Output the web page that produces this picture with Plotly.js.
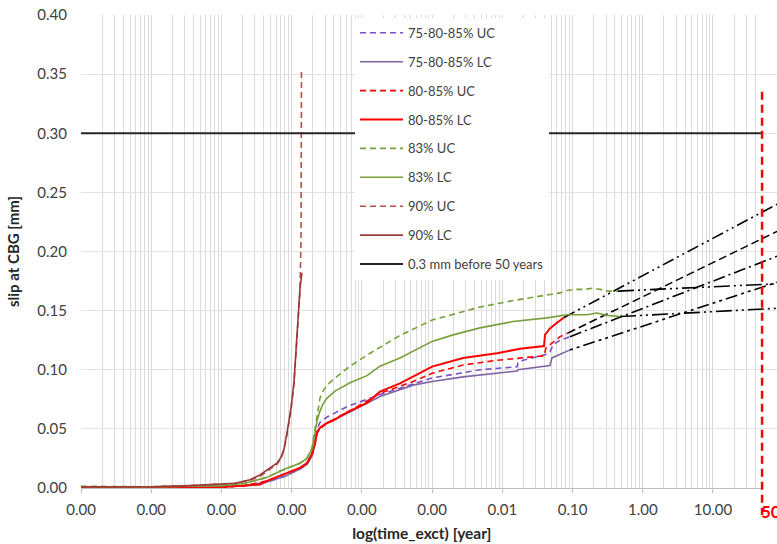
<!DOCTYPE html>
<html><head><meta charset="utf-8">
<script src="https://cdn.plot.ly/plotly-3.0.1.min.js"></script>
<style>html,body{margin:0;padding:0;background:#fff}#chart{width:777px;height:544px}</style>
</head><body><div id="chart"></div>
<script>
// ---- data (time in years, slip in mm) ----
const uc75_t = [1e-8,1e-7,1e-6,2.16e-6,4.45e-6,8.0e-6,1.31e-5,1.65e-5,1.95e-5,2.15e-5,2.30e-5,2.53e-5,3.19e-5,6.14e-5,1.81e-4,1e-3,4.81e-3,0.0163,0.0167,0.0197,0.0405,0.0477,0.0527,0.0663,0.092];
const uc75_y = [0.0005,0.0005,0.001,0.002,0.005,0.010,0.016,0.020,0.027,0.038,0.050,0.0555,0.060,0.0688,0.079,0.093,0.100,0.1025,0.106,0.108,0.1126,0.115,0.121,0.125,0.128];

const lc75_t = [1e-8,1e-7,1e-6,2.16e-6,4.45e-6,8.0e-6,1.31e-5,1.65e-5,1.95e-5,2.15e-5,2.30e-5,2.53e-5,3.19e-5,6.14e-5,1.81e-4,5.35e-4,1e-3,2.76e-3,8.4e-3,0.0163,0.0167,0.0477,0.0493,0.0509,0.092];
const lc75_y = [0.0005,0.0005,0.001,0.002,0.005,0.010,0.016,0.020,0.027,0.037,0.046,0.051,0.055,0.063,0.0773,0.087,0.090,0.094,0.097,0.099,0.100,0.1035,0.107,0.110,0.1168];

const uc80_t = [1e-8,1e-7,1e-6,2.16e-6,4.45e-6,8.0e-6,1.31e-5,1.65e-5,1.95e-5,2.15e-5,2.30e-5,2.53e-5,3.19e-5,6.14e-5,1.81e-4,5.35e-4,1e-3,2.76e-3,8.4e-3,0.0393,0.0419,0.0663,0.0861];
const uc80_y = [0.0005,0.0003,0.0005,0.002,0.006,0.012,0.017,0.021,0.029,0.038,0.047,0.050,0.055,0.064,0.080,0.090,0.097,0.104,0.108,0.1118,0.1185,0.128,0.131];

const lc80_t = [1e-8,1e-7,3.94e-7,1.20e-6,3.54e-6,4.45e-6,8.0e-6,1.31e-5,1.65e-5,1.95e-5,2.15e-5,2.30e-5,2.53e-5,3.19e-5,3.88e-5,6.14e-5,1.18e-4,1.81e-4,3.49e-4,5.35e-4,1e-3,2.76e-3,8.4e-3,0.0179,0.0393,0.0405,0.0477,0.0601,0.0756];
const lc80_y = [0.0005,0.0003,0.000,0.001,0.003,0.006,0.012,0.017,0.021,0.029,0.038,0.047,0.051,0.055,0.057,0.064,0.072,0.0815,0.0885,0.094,0.1027,0.110,0.114,0.1177,0.120,0.1295,0.135,0.1397,0.1442];

const uc83_t = [1e-8,1e-7,1e-6,2.16e-6,4.45e-6,8.0e-6,1.31e-5,1.65e-5,1.95e-5,2.15e-5,2.30e-5,2.53e-5,2.79e-5,3.19e-5,4.14e-5,6.78e-5,1.31e-4,3.49e-4,1e-3,4.81e-3,0.0142,0.0433,0.0663,0.0834,0.108,0.150,0.195,0.246,0.310,0.444];
const uc83_y = [0.0015,0.001,0.002,0.004,0.009,0.016,0.021,0.025,0.034,0.050,0.064,0.076,0.082,0.087,0.093,0.103,0.114,0.129,0.142,0.153,0.1585,0.163,0.165,0.167,0.168,0.168,0.169,0.168,0.1665,0.1665];

const lc83_t = [1e-8,1e-7,1e-6,2.16e-6,4.45e-6,8.0e-6,1.31e-5,1.65e-5,1.95e-5,2.15e-5,2.30e-5,2.53e-5,2.79e-5,3.19e-5,4.14e-5,6.78e-5,1.18e-4,1.81e-4,3.49e-4,1e-3,1.99e-3,4.81e-3,0.0142,0.0433,0.0663,0.0834,0.161,0.223,0.310,0.474];
const lc83_y = [0.001,0.001,0.002,0.004,0.009,0.016,0.021,0.025,0.033,0.047,0.057,0.065,0.071,0.076,0.082,0.089,0.095,0.103,0.110,0.124,0.1295,0.1354,0.1408,0.1439,0.146,0.1465,0.1465,0.148,0.146,0.145];

const uc90_t = [1e-8,1e-7,3.56e-7,1e-6,1.56e-6,2.55e-6,3.54e-6,4.92e-6,6.18e-6,7.05e-6,7.78e-6,8.59e-6,9.80e-6,1.08e-5,1.15e-5,1.23e-5,1.31e-5,1.36e-5,1.38e-5,1.38e-5];
const uc90_y = [0.001,0.001,0.002,0.003,0.004,0.0065,0.010,0.016,0.020,0.025,0.032,0.045,0.066,0.088,0.112,0.138,0.165,0.21,0.27,0.353];

const lc90_t = [1e-8,1e-7,3.56e-7,1e-6,1.56e-6,2.55e-6,3.54e-6,4.92e-6,6.18e-6,7.05e-6,7.78e-6,8.59e-6,9.80e-6,1.08e-5,1.15e-5,1.23e-5,1.31e-5,1.40e-5];
const lc90_y = [0.001,0.001,0.002,0.003,0.004,0.007,0.011,0.017,0.021,0.026,0.033,0.047,0.068,0.090,0.115,0.142,0.168,0.182];

const limit_t = [1e-8, 51];
const limit_y = [0.3, 0.3];

// extrapolation lines to 50 years and beyond (start, right edge)
const ext_t = [[0.0756,81.7],[0.0861,81.7],[0.092,81.7],[0.092,81.7],[0.444,81.7],[0.474,81.7]];
const ext_y = [[0.1442,0.240],[0.131,0.217],[0.128,0.196],[0.1168,0.174],[0.1665,0.1727],[0.145,0.152]];
const ext_dash = ['12px,4px,2px,4px,2px,4px','8px,4px','12px,4px,2px,4px','3px,4px,3px,4px,12px,4px','16px,4px,2px,4px,2px,4px','16px,4px,2px,4px,2px,4px'];

const deadline = 50;      // years
const deadlineTop = 0.335; // mm

// ---- traces (drawn on the full-width log axis x2, which shares the scale of x) ----
const series = [
  {name:'75-80-85% UC', t:uc75_t, y:uc75_y, color:'#7b4fc9', dash:'6px,4px', w:1.6},
  {name:'75-80-85% LC', t:lc75_t, y:lc75_y, color:'#8064a2', dash:'solid', w:1.6},
  {name:'80-85% UC', t:uc80_t, y:uc80_y, color:'#ff0000', dash:'6px,4px', w:1.6},
  {name:'80-85% LC', t:lc80_t, y:lc80_y, color:'#ff0000', dash:'solid', w:2},
  {name:'83% UC', t:uc83_t, y:uc83_y, color:'#77a03b', dash:'6px,4px', w:1.6},
  {name:'83% LC', t:lc83_t, y:lc83_y, color:'#77a03b', dash:'solid', w:1.6},
  {name:'90% UC', t:uc90_t, y:uc90_y, color:'#b54e4b', dash:'6px,4px', w:1.6},
  {name:'90% LC', t:lc90_t, y:lc90_y, color:'#9a3b38', dash:'solid', w:1.6},
  {name:'0.3 mm before 50 years', t:limit_t, y:limit_y, color:'#262626', dash:'solid', w:2}
];
// empty trace so the gridded axis x (ticks, labels, gridlines) gets its subplot
const traces = [{type:'scatter', mode:'lines', x:[], y:[], xaxis:'x', yaxis:'y', showlegend:false, hoverinfo:'skip'}];
ext_t.forEach((t,i)=>{
  traces.push({type:'scatter', mode:'lines', x:t, y:ext_y[i], xaxis:'x2', yaxis:'y',
    line:{color:'#000', width:1.6, dash:ext_dash[i]}, showlegend:false, hoverinfo:'skip'});
});
series.forEach((s,i)=>{
  traces.push({type:'scatter', mode:'lines', name:s.name, x:s.t, y:s.y, xaxis:'x2', yaxis:'y', legendgroup:'g'+i,
    line:{color:s.color, width:s.w, dash:s.dash}});
});

const D = (762.7-81)/696;
const XR = [-8, 1.708];
const YR = [0, 0.4];
const layout = {
  width:777, height:544,
  margin:{l:81, r:0, t:15, b:56},
  paper_bgcolor:'#fff', plot_bgcolor:'rgba(0,0,0,0)',
  font:{family:'Lato, "Open Sans", sans-serif', size:14, color:'#404040'},
  showlegend:true,
  xaxis:{type:'log', domain:[0,D], range:XR, autorange:false, dtick:1, tickformat:'.2f', anchor:'y',
    showgrid:true, gridcolor:'#d8d8d8', gridwidth:1,
    minor:{dtick:'D1', showgrid:true, gridcolor:'#dadada', gridwidth:1, ticks:''},
    showline:true, linecolor:'#bfbfbf', linewidth:1,
    ticks:'outside', ticklen:4, tickcolor:'#bfbfbf', ticklabelstandoff:4,
    tickfont:{size:15, color:'#404040'},
    zeroline:false, automargin:false,
    title:{text:'<b>log(time_exct) [year]</b>', font:{size:15.5, color:'#262626'}, standoff:11}},
  xaxis2:{type:'log', domain:[0,1], range:[XR[0], XR[0]+(XR[1]-XR[0])/D], autorange:false, visible:false, anchor:'y', showgrid:false},
  yaxis:{range:YR, autorange:false, dtick:0.05, tickformat:'.2f', showgrid:true, gridcolor:'#e2e2e2', gridwidth:1,
    tickfont:{size:15, color:'#404040'},
    zeroline:false, showline:false, ticks:'', ticklabelstandoff:13, automargin:false,
    title:{text:'<b>slip at CBG [mm]</b>', font:{size:15, color:'#262626'}, standoff:14}},
  legend:{x:(355-81)/696, y:0.994, xanchor:'left', yanchor:'top', bgcolor:'#ffffff', borderwidth:0,
    font:{size:13, color:'#404040'}, traceorder:'grouped', tracegroupgap:9, itemwidth:43},
  shapes:[{type:'line', xref:'x2', yref:'paper', x0:deadline, x1:deadline,
    y0:deadlineTop/(YR[1]-YR[0]), y1:-27/473, line:{color:'#ff0000', width:2.5, dash:'8px,5px'}}],
  annotations:[{xref:'x2', yref:'paper', x:Math.log10(deadline), y:-24/473, xanchor:'left', yanchor:'middle',
    xshift:-3, showarrow:false, text:'<b>50</b>', font:{size:17, color:'#ff0000'}}]
};
Plotly.newPlot('chart', traces, layout, {displayModeBar:false, staticPlot:true});
</script></body></html>
